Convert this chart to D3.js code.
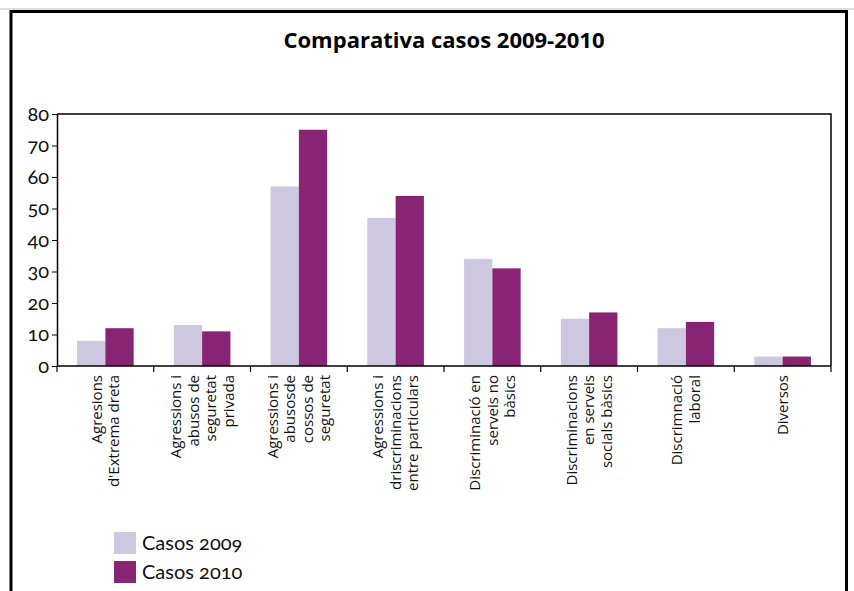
<!DOCTYPE html>
<html>
<head>
  <meta charset="utf-8">
  <script src="https://d3js.org/d3.v7.min.js"></script>
  <style>
    html, body { margin: 0; padding: 0; background: #fff; }
    svg { display: block; }
    .num { font-family: Lato, "Open Sans", sans-serif; font-variant-numeric: oldstyle-nums; }
  </style>
</head>
<body>
<div id="chart"></div>
<script>
// data
const categories = [
  ["Agresions", "d'Extrema dreta"],
  ["Agressions i", "abusos de", "seguretat", "privada"],
  ["Agressions i", "abusosde", "cossos de", "seguretat"],
  ["Agressions i", "driscriminacions", "entre particulars"],
  ["Discriminació en", "serveis no", "bàsics"],
  ["Discriminacions", "en serveis", "socials bàsics"],
  ["Discrimnació", "laboral"],
  ["Diversos"]
];
const casos2009 = [8, 13, 57, 47, 34, 15, 12, 3];
const casos2010 = [12, 11, 75, 54, 31, 17, 14, 3];
const seriesNames = ["Casos 2009", "Casos 2010"];
const seriesColors = ["#cdc8e0", "#872474"];
const yTicks = [0, 10, 20, 30, 40, 50, 60, 70, 80];

const W = 854, H = 591;
const plot = {left: 57, right: 831, top: 114, bottom: 366};

const svg = d3.select("#chart").append("svg")
  .attr("width", W).attr("height", H);

// outer frame
svg.append("line").attr("x1", 0).attr("x2", W).attr("y1", 9).attr("y2", 9)
  .attr("stroke", "#bbb").attr("stroke-width", 1);
svg.append("rect")
  .attr("x", 11).attr("y", 11.5).attr("width", 835.5).attr("height", H + 20)
  .attr("fill", "#fff").attr("stroke", "#000").attr("stroke-width", 3);

// title
svg.append("text")
  .attr("x", 444).attr("y", 48)
  .attr("text-anchor", "middle")
  .style("font-family", "'Open Sans', sans-serif")
  .style("font-weight", "bold")
  .style("font-size", "22px")
  .text("Comparativa casos 2009-2010");

const idx = d3.range(categories.length);

const x = d3.scaleBand()
  .domain(idx)
  .range([plot.left, plot.right])
  .paddingInner(0)
  .paddingOuter(0);

const xSub = d3.scaleBand()
  .domain([0, 1])
  .range([0, x.bandwidth()])
  .paddingInner(0)
  .paddingOuter(0.71);

const y = d3.scaleLinear()
  .domain([0, 80])
  .range([plot.bottom, plot.top]);

// plot box top/right
svg.append("path")
  .attr("d", `M${plot.left},${plot.top}H${plot.right}V${plot.bottom}`)
  .attr("fill", "none").attr("stroke", "#000").attr("stroke-width", 1.5);

// bars
const series = [casos2009, casos2010];
series.forEach((vals, s) => {
  svg.append("g").selectAll("rect")
    .data(vals)
    .join("rect")
    .attr("x", (d, i) => x(i) + xSub(s))
    .attr("width", xSub.bandwidth())
    .attr("y", d => y(d))
    .attr("height", d => y(0) - y(d))
    .attr("fill", seriesColors[s]);
});

// y axis
const yAxis = svg.append("g")
  .attr("transform", `translate(${plot.left},0)`)
  .call(d3.axisLeft(y).tickValues(yTicks).tickSize(5).tickPadding(3).tickSizeOuter(0));
yAxis.select(".domain").attr("stroke-width", 1.5);
yAxis.selectAll("text")
  .attr("class", "num")
  .style("font-size", "20px")
  .attr("fill", "#111");

// x axis with ticks at band boundaries
const xAxis = svg.append("g")
  .attr("transform", `translate(0,${plot.bottom})`);
xAxis.append("line")
  .attr("x1", plot.left).attr("x2", plot.right)
  .attr("stroke", "#000").attr("stroke-width", 1.5);
xAxis.selectAll("line.tick")
  .data(d3.range(categories.length + 1))
  .join("line")
  .attr("class", "tick")
  .attr("x1", i => i < categories.length ? x(i) : plot.right)
  .attr("x2", i => i < categories.length ? x(i) : plot.right)
  .attr("y1", 0).attr("y2", 6)
  .attr("stroke", "#000").attr("stroke-width", 1.2);

// category labels, rotated
const lineH = 17.5;
const labels = svg.append("g").selectAll("text")
  .data(categories)
  .join("text")
  .attr("transform", (d, i) => `translate(${x(i) + x.bandwidth() / 2},375) rotate(-90)`)
  .attr("text-anchor", "end")
  .style("font-family", "'Open Sans', sans-serif")
  .style("font-size", "15px")
  .attr("fill", "#111");
labels.each(function(lines) {
  const t = d3.select(this);
  const n = lines.length;
  lines.forEach((ln, j) => {
    t.append("tspan")
      .attr("x", 0)
      .attr("y", (j - (n - 1) / 2) * lineH)
      .attr("dy", "0.35em")
      .text(ln);
  });
});

// legend
const legend = svg.append("g");
seriesNames.forEach((name, s) => {
  const ly = 532 + s * 29;
  legend.append("rect")
    .attr("x", 114).attr("y", ly)
    .attr("width", 22).attr("height", 22)
    .attr("fill", seriesColors[s]);
  legend.append("text")
    .attr("class", "num")
    .attr("x", 142).attr("y", ly + 18)
    .style("font-size", "20px")
    .attr("fill", "#111")
    .text(name);
});
</script>
</body>
</html>
